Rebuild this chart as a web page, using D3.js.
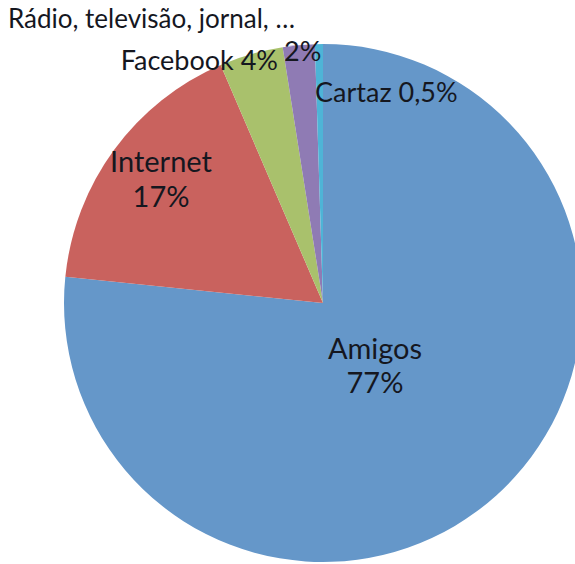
<!DOCTYPE html>
<html>
<head>
<meta charset="utf-8">
<script src="https://cdn.jsdelivr.net/npm/d3@7/dist/d3.min.js"></script>
<style>
  html, body { margin: 0; padding: 0; background: #fff; }
  svg { display: block; }
  text { font-family: "Lato", "Open Sans", sans-serif; fill: #15171f; }
</style>
</head>
<body>
<svg id="chart" width="575" height="564"></svg>
<script>
// Source of information, share of respondents (%)
const categories = ["Amigos", "Internet", "Facebook", "Rádio, televisão, jornal, …", "Cartaz"];
const shares = [77, 17, 4, 2, 0.5];
const shareLabels = ["77%", "17%", "4%", "2%", "0,5%"];
const colors = ["#6597c9", "#c9625e", "#a9c16c", "#8f7bb4", "#4eb4d6"];

const width = 575, height = 564;
const cx = 323, cy = 303, radius = 259;

const svg = d3.select("#chart");
const g = svg.append("g").attr("transform", `translate(${cx},${cy})`);

const data = categories.map((c, i) => ({ category: c, value: shares[i], label: shareLabels[i], color: colors[i] }));

const pie = d3.pie().sort(null).value(d => d.value).startAngle(0).endAngle(2 * Math.PI);
const arc = d3.arc().innerRadius(0).outerRadius(radius);
const arcs = pie(data);

g.selectAll("path.slice")
  .data(arcs)
  .join("path")
  .attr("class", "slice")
  .attr("d", arc)
  .attr("fill", d => d.data.color);

// Label placement relative to the pie centre
const labelLayout = [
  { x: 52, y: 56, anchor: "middle", lines: d => [d.category, d.label], size: 29, gap: 34 },
  { x: -162, y: -131, anchor: "middle", lines: d => [d.category, d.label], size: 29, gap: 35 },
  { x: -45, y: -233, anchor: "end", lines: d => [d.category + " " + d.label], size: 27, gap: 0 },
  { x: -39, y: -242, anchor: "start", lines: d => [d.label], size: 27, gap: 0 },
  { x: -8, y: -201, anchor: "start", lines: d => [d.category + " " + d.label], size: 27, gap: 0 }
];

arcs.forEach((a, i) => {
  const L = labelLayout[i];
  const lines = L.lines(a.data);
  const t = g.append("text")
    .attr("text-anchor", L.anchor)
    .attr("font-size", L.size);
  lines.forEach((s, k) => {
    t.append("tspan").attr("x", L.x).attr("y", L.y + k * L.gap).text(s);
  });
});

// Category name for the small "Rádio…" slice sits on its own line above
g.append("text")
  .attr("x", -315)
  .attr("y", -275)
  .attr("font-size", 26)
  .attr("text-anchor", "start")
  .text(categories[3]);
</script>
</body>
</html>
